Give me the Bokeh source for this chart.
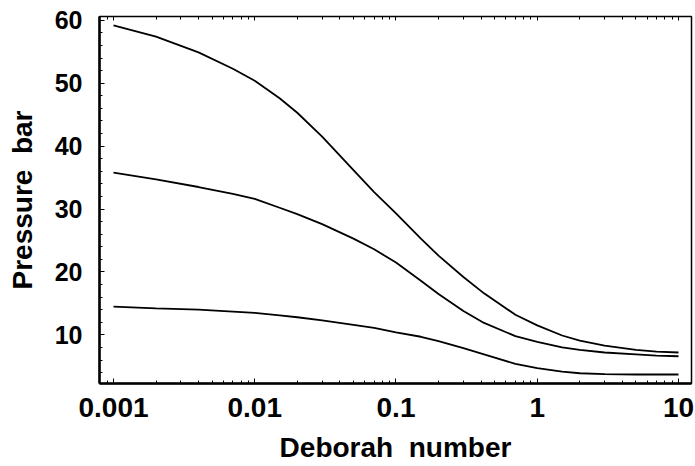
from bokeh.plotting import figure
from bokeh.models import LogAxis, LogTicker, SingleIntervalTicker, Range1d, ColumnDataSource
from bokeh.embed import file_html
from bokeh.resources import INLINE

deborah = [0.001, 0.002, 0.004, 0.007, 0.01, 0.015, 0.02, 0.03, 0.05, 0.07, 0.1,
           0.15, 0.2, 0.3, 0.42, 0.7, 1.0, 1.5, 2.0, 3.0, 5.0, 7.0, 10.0]
pressure_high = [59.2, 57.4, 54.9, 52.3, 50.4, 47.6, 45.3, 41.5, 36.2, 32.7, 29.3,
                 25.3, 22.6, 19.2, 16.6, 13.2, 11.5, 9.9, 9.1, 8.3, 7.6, 7.35, 7.2]
pressure_mid = [35.8, 34.7, 33.5, 32.4, 31.6, 30.2, 29.2, 27.6, 25.3, 23.6, 21.5,
                18.6, 16.5, 13.8, 11.9, 9.8, 8.9, 8.0, 7.6, 7.2, 6.9, 6.7, 6.6]
pressure_low = [14.5, 14.2, 14.0, 13.7, 13.5, 13.1, 12.8, 12.3, 11.6, 11.1, 10.4,
                9.7, 9.0, 7.9, 6.9, 5.4, 4.7, 4.15, 3.9, 3.75, 3.7, 3.7, 3.7]

x_title = "Deborah\u00a0\u00a0number"
y_title = "Pressure\u00a0\u00a0bar"

src = ColumnDataSource(dict(x=deborah, hi=pressure_high, mid=pressure_mid, lo=pressure_low))

FONT = "Liberation Sans"

p = figure(frame_width=592, frame_height=367, x_axis_type="log",
           x_range=Range1d(0.000796, 12.36), y_range=Range1d(2.27, 60.6),
           output_backend="svg", toolbar_location=None,
           min_border_left=99, min_border_right=4, min_border_top=16, min_border_bottom=76)

p.xgrid.visible = False
p.ygrid.visible = False
p.outline_line_color = "black"
p.outline_line_width = 1.5
p.background_fill_color = "white"
p.border_fill_color = "white"

for col in ["hi", "mid", "lo"]:
    p.line("x", col, source=src, line_color="black", line_width=1.8)

xa = p.xaxis[0]
xa.ticker = LogTicker(num_minor_ticks=10)
xa.major_label_overrides = {0.001: "0.001", 0.01: "0.01", 0.1: "0.1", 1: "1", 10: "10"}
xa.axis_label = x_title
xa.axis_line_width = 2.5
xa.major_tick_in = 5
xa.major_tick_out = 0
xa.minor_tick_in = 3
xa.minor_tick_out = 0
xa.major_label_standoff = 14
xa.axis_label_standoff = 12
xa.major_label_text_font = FONT
xa.major_label_text_font_style = "bold"
xa.major_label_text_font_size = "28px"
xa.major_label_text_color = "black"
xa.axis_label_text_font = FONT
xa.axis_label_text_font_style = "bold"
xa.axis_label_text_font_size = "28px"
xa.axis_label_text_color = "black"

ya = p.yaxis[0]
ya.ticker = SingleIntervalTicker(interval=10, num_minor_ticks=5)
ya.axis_label = y_title
ya.axis_line_width = 2.5
ya.major_tick_in = 5
ya.major_tick_out = 0
ya.minor_tick_in = 3
ya.minor_tick_out = 0
ya.major_label_standoff = 17
ya.axis_label_standoff = 14
ya.major_label_text_font = FONT
ya.major_label_text_font_style = "bold"
ya.major_label_text_font_size = "25px"
ya.major_label_text_color = "black"
ya.axis_label_text_font = FONT
ya.axis_label_text_font_style = "bold"
ya.axis_label_text_font_size = "28px"
ya.axis_label_text_color = "black"

top = LogAxis(ticker=LogTicker(num_minor_ticks=10), major_tick_in=4, major_tick_out=0,
              minor_tick_in=3, minor_tick_out=0, major_label_text_font_size="4px",
              major_label_text_color=None, major_label_standoff=0, axis_line_color=None)
p.add_layout(top, "above")

with open("out.html", "w") as f:
    f.write(file_html(p, INLINE))
